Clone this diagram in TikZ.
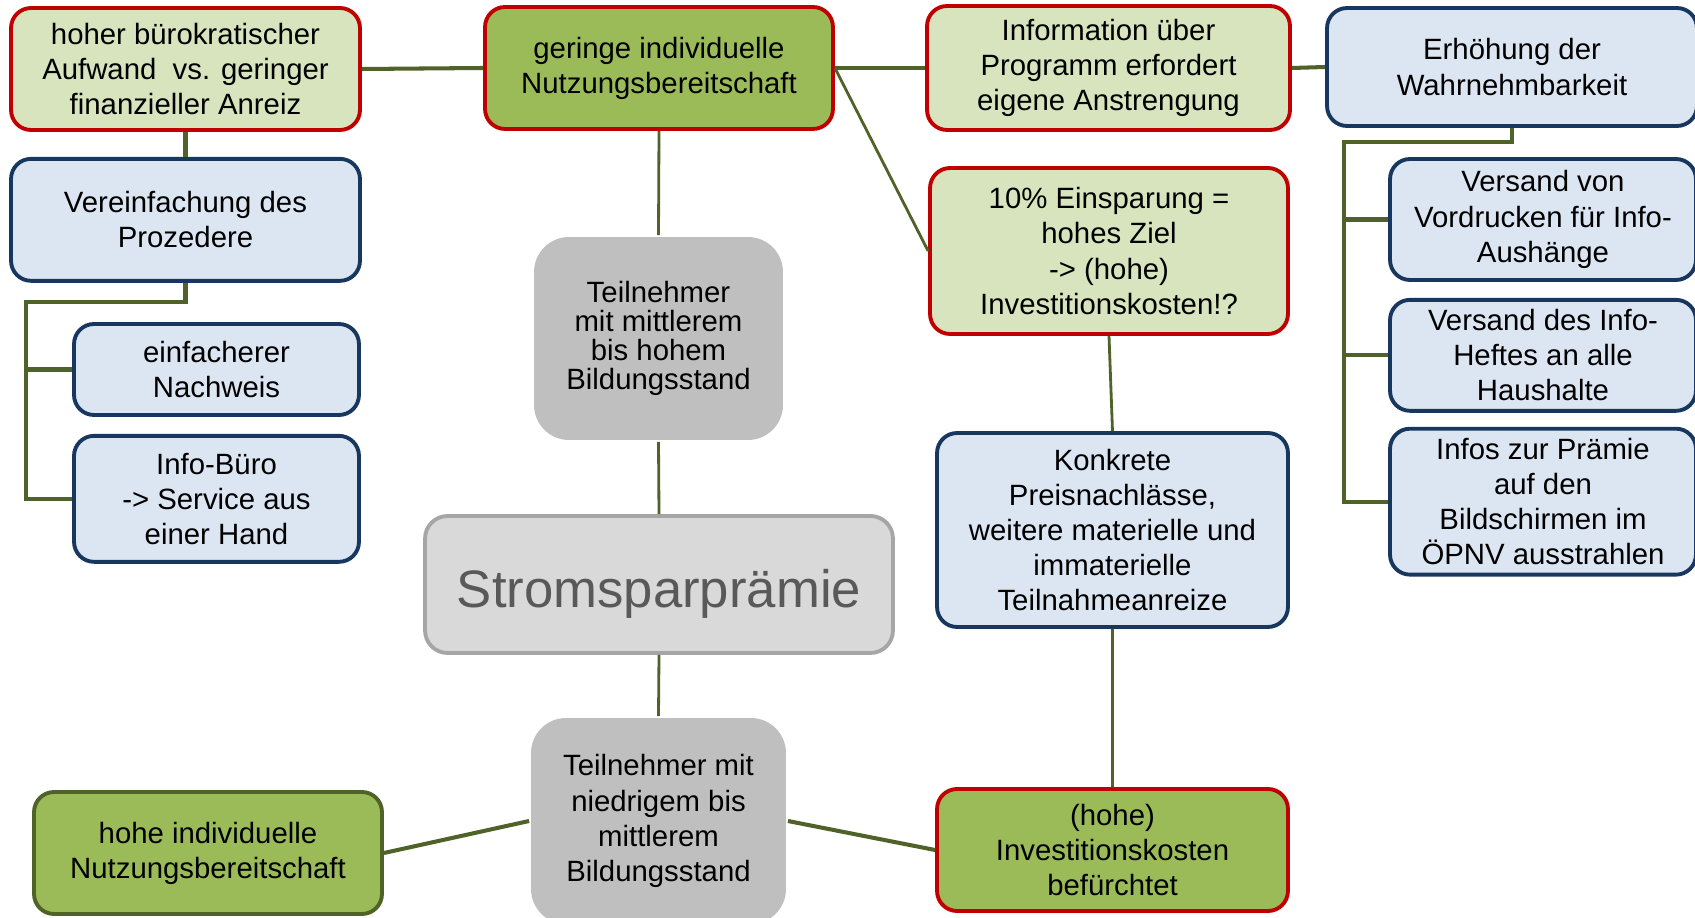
\documentclass[tikz,border=0pt]{standalone}
\usepackage{fontspec}
\setmainfont{Liberation Sans}
\usepackage{tikz}
\usetikzlibrary{
    positioning
}
\definecolor{mmRed}{RGB}{192,0,0}
\definecolor{mmNavy}{RGB}{23,55,94}
\definecolor{mmOlive}{RGB}{79,98,40}
\definecolor{mmLight}{RGB}{215,228,189}
\definecolor{mmGreen}{RGB}{155,187,89}
\definecolor{mmBlue}{RGB}{220,230,242}
\definecolor{mmGray}{RGB}{191,191,191}
\definecolor{mmPale}{RGB}{217,217,217}
\definecolor{mmEdge}{RGB}{166,166,166}
\definecolor{mmText}{RGB}{89,89,89}
\newcommand{\mmfont}{\fontsize{16.7}{20}\selectfont}
\tikzset{
  block/.style   = {rounded corners=0.4cm, line width=2.2pt, align=center,
                    inner sep=2pt, font=\mmfont,
                    execute at begin node={\rule{0pt}{19pt}}},
  gblock/.style  = {block, draw=mmRed, fill=mmLight},
  dgblock/.style = {block, draw=mmRed, fill=mmGreen},
  hgblock/.style = {block, draw=mmOlive, fill=mmGreen},
  bblock/.style  = {block, draw=mmNavy, fill=mmBlue},
  tnblock/.style = {block, rounded corners=0.7cm, fill=mmGray},
  conn/.style    = {mmOlive, line width=2.3pt},
  connt/.style   = {mmOlive, line width=1.6pt}
}

\begin{document}
\begin{tikzpicture}[x=0.02cm, y=-0.02cm, node distance=0.32cm]
    \useasboundingbox (0,0) rectangle (1695,918);

    % ── CENTER ──
    \node[block, draw=mmEdge, fill=mmPale, rounded corners=0.45cm,
          minimum width=9.36cm, minimum height=2.74cm,
          font=\fontsize{30}{34}\selectfont, text=mmText,
          execute at begin node={\rule{0pt}{32pt}}]
          (strom) at (659,584.5) {Stromsparprämie};
    \node[tnblock, minimum width=4.98cm, minimum height=4.06cm,
          font=\fontsize{16.7}{16.5}\selectfont]
          (tnhoch) at (658.5,338.5) {Teilnehmer\\mit mittlerem\\bis hohem\\Bildungsstand};
    \node[tnblock, minimum width=5.10cm, minimum height=4.12cm]
          (tnniedrig) at (658.5,821) {Teilnehmer mit\\niedrigem bis\\mittlerem\\Bildungsstand};

    % ── TOP ROW ──
    \node[dgblock, minimum width=6.96cm, minimum height=2.44cm]
          (geringe) at (659,68) {geringe individuelle\\Nutzungsbereitschaft};
    \node[gblock, minimum width=6.98cm, minimum height=2.44cm]
          (aufwand) at (185.5,69) {hoher bürokratischer\\Aufwand\ \ vs. geringer\\finanzieller Anreiz};
    \node[gblock, minimum width=7.26cm, minimum height=2.48cm]
          (info) at (1108.5,68) {Information über\\Programm erfordert\\eigene Anstrengung};
    \node[bblock, minimum width=7.40cm, minimum height=2.36cm]
          (wahrn) at (1512,67) {Erhöhung der\\Wahrnehmbarkeit};

    % ── LEFT ──
    \node[bblock, minimum width=6.98cm, minimum height=2.44cm,
          below=0.5cm of aufwand] (verein) {Vereinfachung des\\Prozedere};
    \node[bblock, minimum width=5.70cm, minimum height=1.82cm]
          (nachweis) at (216.5,369.5) {einfacherer\\Nachweis};
    \node[bblock, minimum width=5.70cm, minimum height=2.52cm,
          below=0.34cm of nachweis] (infobuero) {Info-Büro\\-> Service aus\\einer Hand};
    \node[hgblock, minimum width=6.96cm, minimum height=2.44cm]
          (hoheind) at (208,853) {hohe individuelle\\Nutzungsbereitschaft};

    % ── MIDDLE RIGHT ──
    \node[gblock, minimum width=7.16cm, minimum height=3.32cm]
          (ziel) at (1109,251) {10\% Einsparung =\\hohes Ziel\\-> (hohe)\\Investitionskosten!?};
    \node[bblock, minimum width=7.02cm, minimum height=3.88cm]
          (anreize) at (1112.5,530) {Konkrete\\Preisnachlässe,\\weitere materielle und\\immaterielle\\Teilnahmeanreize};
    \node[dgblock, minimum width=7.02cm, minimum height=2.44cm]
          (invest) at (1112.5,850) {(hohe)\\Investitionskosten\\befürchtet};

    % ── RIGHT ──
    \node[bblock, minimum width=6.12cm, minimum height=2.42cm]
          (vordruck) at (1543,219.5) {Versand von\\Vordrucken für Info-\\Aushänge};
    \node[bblock, minimum width=6.12cm, minimum height=2.22cm,
          below=of vordruck] (heft) {Versand des Info-\\Heftes an alle\\Haushalte};
    \node[bblock, minimum width=6.12cm, minimum height=2.92cm,
          below=0.28cm of heft] (bildschirm) {Infos zur Prämie\\auf den\\Bildschirmen im\\ÖPNV ausstrahlen};

    % ── CONNECTORS ──
    \coordinate (lspine) at (26,302);
    \coordinate (rspine) at (1344,142);

    \draw[conn] (aufwand.east) -- (geringe.west);
    \draw[conn] (geringe.east) -- (info.west);
    \draw[conn] (info.east) -- (wahrn.west);
    \draw[conn] (aufwand.south) -- (verein.north);
    \draw[conn] (verein.south) |- (lspine) |- (infobuero.west);
    \draw[conn] (lspine) |- (nachweis.west);
    \draw[conn] (wahrn.south) |- (rspine) |- (bildschirm.west);
    \draw[conn] (rspine) |- (vordruck.west);
    \draw[conn] (rspine) |- (heft.west);

    \draw[connt] (geringe.east) -- (ziel.west);
    \draw[connt] (geringe.south) -- (tnhoch.north);
    \draw[connt] (tnhoch.south) -- (strom.north);
    \draw[connt] (strom.south) -- (tnniedrig.north);
    \draw[connt] (ziel.south) -- (anreize.north);
    \draw[connt] (anreize.south) -- (invest.north);

    \draw[conn] (tnniedrig.west) -- (hoheind.east);
    \draw[conn] (tnniedrig.east) -- (invest.west);
\end{tikzpicture}
\end{document}
